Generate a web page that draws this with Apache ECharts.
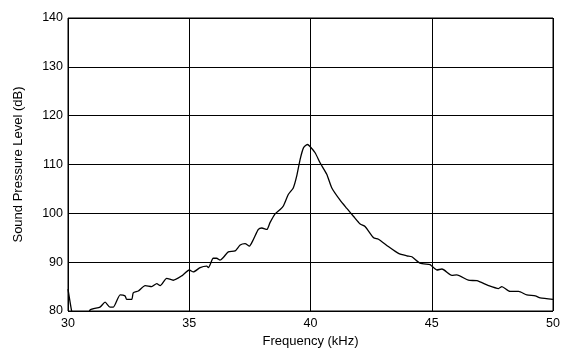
<!DOCTYPE html>
<html>
<head>
<meta charset="utf-8">
<script src="https://cdn.jsdelivr.net/npm/echarts@6/dist/echarts.min.js"></script>
<style>
  html, body { margin: 0; padding: 0; background: #fff; }
  #chart { width: 569px; height: 353px; }
</style>
</head>
<body>
<div id="chart"></div>
<script>
// frequency (kHz) and sound pressure level (dB)
const freq = [
  30, 30.15, 30.3, 30.7, 30.91, 31.32, 31.53, 31.73, 31.87, 32.15, 32.35, 32.42, 32.63, 32.69,
  32.9, 33.18, 33.45, 33.66, 33.8, 34.07, 34.34, 34.69, 35.0, 35.17, 35.45, 35.72, 35.79,
  35.99, 36.13, 36.27, 36.41, 36.61, 36.89, 37.1, 37.3, 37.48, 37.65, 37.85, 37.99, 38.2,
  38.33, 38.54, 38.75, 38.88, 39.09, 39.29, 39.43, 39.57, 39.71, 39.87, 39.98, 40.19, 40.4,
  40.67, 40.88, 41.22, 41.5, 41.77, 42.05, 42.25, 42.6, 42.8, 43.21, 43.63, 43.97, 44.18,
  44.52, 44.93, 45.0, 45.21, 45.42, 45.83, 46.03, 46.51, 46.86, 47.34, 47.75, 47.89, 48.23,
  48.58, 48.92, 49.27, 49.47, 50.0
];
const spl = [
  84.5, 80, 77, 77, 80.2, 80.8, 81.8, 80.8, 80.8, 83.3, 83.1, 82.4, 82.4, 83.7,
  84.1, 85.2, 85.0, 85.6, 85.2, 86.7, 86.3, 87.2, 88.4, 88.0, 88.9, 89.2, 88.9,
  90.8, 90.8, 90.4, 91.0, 92.1, 92.3, 93.5, 93.8, 93.3, 94.7, 96.7, 97.0, 96.7,
  98.1, 99.9, 100.8, 101.5, 103.9, 105.2, 107.6, 111.0, 113.4, 114.1, 113.7, 112.4, 110.3,
  108.0, 105.2, 102.7, 101.0, 99.4, 97.8, 97.3, 95.0, 94.7, 93.2, 91.8, 91.3, 91.1,
  89.8, 89.5, 89.2, 88.4, 88.6, 87.3, 87.4, 86.3, 86.2, 85.2, 84.6, 85.0, 84.0,
  84.0, 83.3, 83.1, 82.7, 82.4
];
const xTicks = [30, 35, 40, 45, 50];
const yTicks = [80, 90, 100, 110, 120, 130, 140];

const chart = echarts.init(document.getElementById('chart'));
const font = 'Liberation Sans, Arial, sans-serif';

chart.setOption({
  animation: false,
  backgroundColor: '#fff',
  grid: {
    left: 68, right: 16, top: 18, bottom: 41,
    show: true, borderColor: '#000', borderWidth: 1
  },
  xAxis: {
    type: 'value',
    min: xTicks[0], max: xTicks[xTicks.length - 1], interval: 5,
    name: 'Frequency (kHz)',
    nameLocation: 'middle', nameGap: 24,
    nameTextStyle: { color: '#000', fontSize: 13, fontFamily: font },
    axisLine: { show: false },
    axisTick: { show: false },
    axisLabel: { color: '#000', fontSize: 12.5, fontFamily: font, margin: 6 },
    splitLine: { show: true, lineStyle: { color: '#000', width: 1 } }
  },
  yAxis: {
    type: 'value',
    min: yTicks[0], max: yTicks[yTicks.length - 1], interval: 10,
    name: 'Sound Pressure Level (dB)',
    nameLocation: 'middle', nameGap: 43,
    nameTextStyle: { color: '#000', fontSize: 13, fontFamily: font },
    axisLine: { show: false },
    axisTick: { show: false },
    axisLabel: { color: '#000', fontSize: 12.5, fontFamily: font, margin: 5 },
    splitLine: { show: true, lineStyle: { color: '#000', width: 1 } }
  },
  series: [{
    type: 'line',
    data: freq.map((f, i) => [f, spl[i]]),
    showSymbol: false,
    smooth: 0.2,
    clip: true,
    lineStyle: { color: '#000', width: 1.3 }
  }]
});
</script>
</body>
</html>
